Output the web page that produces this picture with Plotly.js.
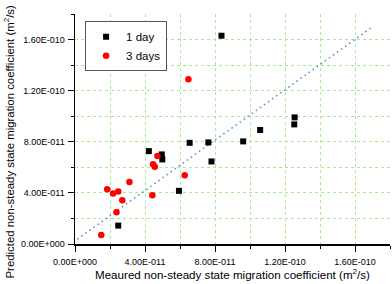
<!DOCTYPE html>
<html>
<head>
<meta charset="utf-8">
<script src="https://cdn.plot.ly/plotly-3.0.1.min.js"></script>
<style>html,body{margin:0;padding:0;background:#fff;}#chart{width:392px;height:284px;}</style>
</head>
<body>
<div id="chart"></div>
<script>
// 1 day series (m^2/s)
var day1X = [4.22e-11, 4.96e-11, 4.99e-11, 2.47e-11, 5.94e-11, 6.55e-11, 8.37e-11, 7.62e-11, 7.80e-11, 9.61e-11, 10.58e-11, 12.55e-11, 12.53e-11];
var day1Y = [7.27e-11, 7.01e-11, 6.62e-11, 1.44e-11, 4.16e-11, 7.92e-11, 16.30e-11, 7.95e-11, 6.46e-11, 8.03e-11, 8.92e-11, 9.91e-11, 9.36e-11];
// 3 days series
var day3X = [6.48e-11, 6.27e-11, 4.71e-11, 4.46e-11, 4.56e-11, 4.42e-11, 3.11e-11, 1.84e-11, 2.18e-11, 2.47e-11, 2.70e-11, 2.37e-11, 1.50e-11];
var day3Y = [12.90e-11, 5.39e-11, 6.88e-11, 6.25e-11, 6.04e-11, 3.82e-11, 4.86e-11, 4.29e-11, 3.95e-11, 4.11e-11, 3.43e-11, 2.49e-11, 0.71e-11];
// reference line
var lineX = [0.13e-11, 17.0e-11];
var lineY = [0.37e-11, 17.0e-11];
// ticks
var tickVals = [0, 4e-11, 8e-11, 1.2e-10, 1.6e-10];
var tickText = ["0.00E+000", "4.00E-011", "8.00E-011", "1.20E-010", "1.60E-010"];
var minorVals = [2e-11, 6e-11, 1.0e-10, 1.4e-10, 1.8e-10];
var xTitle = 'Meaured non-steady state migration coefficient (m<sup>2</sup>/s)';
var yTitle = 'Predicted non-steady state migration coefficient (m<sup>2</sup>/s)';

var FONT = "Liberation Sans, Arial, sans-serif";
var GRID = '#a6ec92';

var traces = [
  {x: lineX, y: lineY, mode: 'lines', line: {color: '#7585c5', width: 1.6, dash: '1.5px,3.5px'}, showlegend: false, hoverinfo: 'skip'},
  {x: day1X, y: day1Y, mode: 'markers', name: '1 day', marker: {symbol: 'square', size: 6, color: '#000000'}},
  {x: day3X, y: day3Y, mode: 'markers', name: '3 days', marker: {symbol: 'circle', size: 6.5, color: '#ff0000'}}
];

function axis() {
  return {
    range: [0, 1.8e-10],
    tickmode: 'array', tickvals: tickVals, ticktext: tickText,
    ticks: 'outside', ticklen: 6, tickwidth: 1, tickcolor: '#000',
    showline: true, linecolor: '#000', linewidth: 1.5,
    showgrid: true, gridcolor: GRID, gridwidth: 1, griddash: 'dot',
    zeroline: false,
    tickfont: {family: FONT, size: 9, color: '#000'},
    minor: {tickmode: 'array', tickvals: minorVals, ticks: 'outside', ticklen: 3, tickcolor: '#000',
            showgrid: true, gridcolor: GRID, gridwidth: 1, griddash: 'dot'},
    fixedrange: true
  };
}

var xa = axis();
xa.ticklabelstandoff = 3;
xa.title = {text: xTitle, font: {family: FONT, size: 11.6, color: '#000'}, standoff: 4};
var ya = axis();
ya.ticklabelstandoff = 1;

var layout = {
  width: 392, height: 284,
  margin: {l: 75, r: 2, t: 14, b: 40},
  paper_bgcolor: '#fff', plot_bgcolor: '#fff',
  xaxis: xa, yaxis: ya,
  annotations: [{
    text: yTitle, xref: 'paper', yref: 'paper', x: -0.21, y: 0.445,
    xanchor: 'center', yanchor: 'middle', textangle: -90, showarrow: false,
    font: {family: FONT, size: 11.4, color: '#000'}
  }],
  showlegend: true,
  legend: {x: 0.032, y: 0.968, xanchor: 'left', yanchor: 'top', bgcolor: '#fff', bordercolor: '#555', borderwidth: 1,
           font: {family: FONT, size: 11.5, color: '#000'}, tracegroupgap: 0, itemwidth: 30},
  font: {family: FONT}
};

Plotly.newPlot('chart', traces, layout, {staticPlot: true, displayModeBar: false});
</script>
</body>
</html>
